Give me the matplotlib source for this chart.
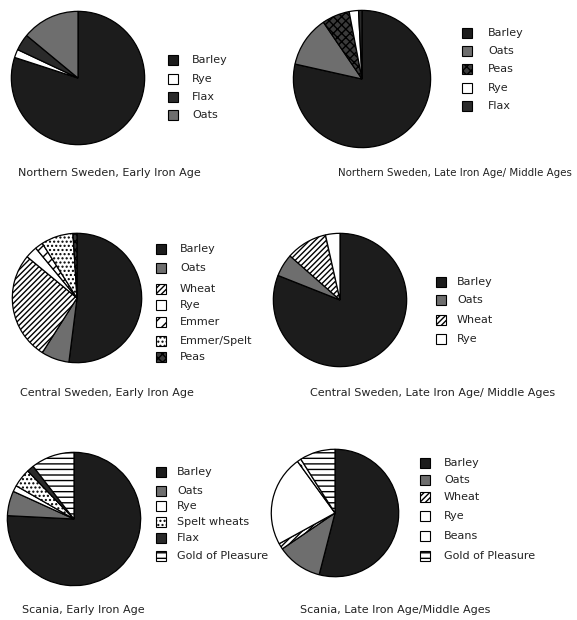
import matplotlib
matplotlib.use('Agg')

import matplotlib.pyplot as plt
from matplotlib.patches import Rectangle

W, H = 577, 620

# --- data (percent shares) ---
ns_early_labels = ['Barley', 'Rye', 'Flax', 'Oats']
ns_early_values = [80, 2, 4, 14]

ns_late_labels = ['Barley', 'Oats', 'Peas', 'Rye', 'Flax']
ns_late_values = [78.5, 12, 6.5, 2.2, 0.8]

cs_early_labels = ['Barley', 'Oats', 'Wheat', 'Rye', 'Emmer', 'Emmer/Spelt', 'Peas']
cs_early_values = [52, 7, 27, 3, 2, 8, 1]

cs_late_labels = ['Barley', 'Oats', 'Wheat', 'Rye']
cs_late_values = [81, 5.5, 10, 3.5]

sc_early_labels = ['Barley', 'Oats', 'Rye', 'Spelt wheats', 'Flax', 'Gold of Pleasure']
sc_early_values = [75.8, 6, 1.5, 4.5, 1.7, 10.5]

sc_late_labels = ['Barley', 'Oats', 'Wheat', 'Rye', 'Beans', 'Gold of Pleasure']
sc_late_values = [54, 11.5, 1.5, 23, 1, 9]

titles = ['Northern Sweden, Early Iron Age',
          'Northern Sweden, Late Iron Age/ Middle Ages',
          'Central Sweden, Early Iron Age',
          'Central Sweden, Late Iron Age/ Middle Ages',
          'Scania, Early Iron Age',
          'Scania, Late Iron Age/Middle Ages']

# --- fill styles per crop (face colour, hatch) ---
style = {
    'Barley': ('#1c1c1c', None),
    'Oats': ('#6e6e6e', None),
    'Rye': ('white', None),
    'Flax': ('#2a2a2a', None),
    'Peas': ('#3a3a3a', 'xxxx'),
    'Wheat': ('white', '//////'),
    'Emmer': ('white', '///'),
    'Emmer/Spelt': ('white', '....'),
    'Spelt wheats': ('white', '....'),
    'Beans': ('white', '.'),
    'Gold of Pleasure': ('white', '---'),
}

# pixel layout: pie centre x, y, radius; legend box x, text x, row ys; title x, y, title size
layout = [
    (78, 78, 68, 168, 192, [60, 79, 97, 115], 18, 173, 8),
    (362, 79, 70, 462, 488, [33, 51, 69, 88, 106], 338, 173, 7.4),
    (77, 298, 66, 156, 180, [249, 268, 289, 305, 322, 341, 357], 20, 393, 8),
    (340, 300, 68, 436, 457, [282, 300, 320, 339], 310, 393, 8),
    (74, 519, 68, 156, 177, [472, 491, 506, 522, 538, 556], 22, 610, 8),
    (335, 513, 65, 420, 444, [463, 480, 497, 516, 536, 556], 300, 610, 8),
]

datasets = [
    (ns_early_labels, ns_early_values),
    (ns_late_labels, ns_late_values),
    (cs_early_labels, cs_early_values),
    (cs_late_labels, cs_late_values),
    (sc_early_labels, sc_early_values),
    (sc_late_labels, sc_late_values),
]

fig = plt.figure(figsize=(W / 100, H / 100), dpi=100)
fig.patch.set_facecolor('white')

for (labels, values), title, lay in zip(datasets, titles, layout):
    cx, cy, r, bx, tx, rows, ttx, tty, tsize = lay
    ax = fig.add_axes([(cx - r) / W, 1 - (cy + r) / H, 2 * r / W, 2 * r / H])
    colors = [style[l][0] for l in labels]
    wedges, _ = ax.pie(values, colors=colors, startangle=90, counterclock=False,
                       wedgeprops=dict(edgecolor='black', linewidth=0.9))
    for w, l in zip(wedges, labels):
        if style[l][1]:
            w.set_hatch(style[l][1])
    ax.set_xlim(-1.02, 1.02)
    ax.set_ylim(-1.02, 1.02)
    ax.axis('off')

    # legend drawn by hand
    for l, yy in zip(labels, rows):
        fc, hatch = style[l]
        sq = Rectangle((bx / W, 1 - (yy + 5) / H), 10 / W, 10 / H,
                       transform=fig.transFigure, facecolor=fc, edgecolor='black',
                       linewidth=0.8, hatch=hatch)
        fig.patches.append(sq)
        fig.text(tx / W, 1 - yy / H, l, fontsize=8, va='center', ha='left', color='#222222')

    fig.text(ttx / W, 1 - tty / H, title, fontsize=tsize, va='center', ha='left', color='#222222')

plt.savefig('out.png', dpi=100)
